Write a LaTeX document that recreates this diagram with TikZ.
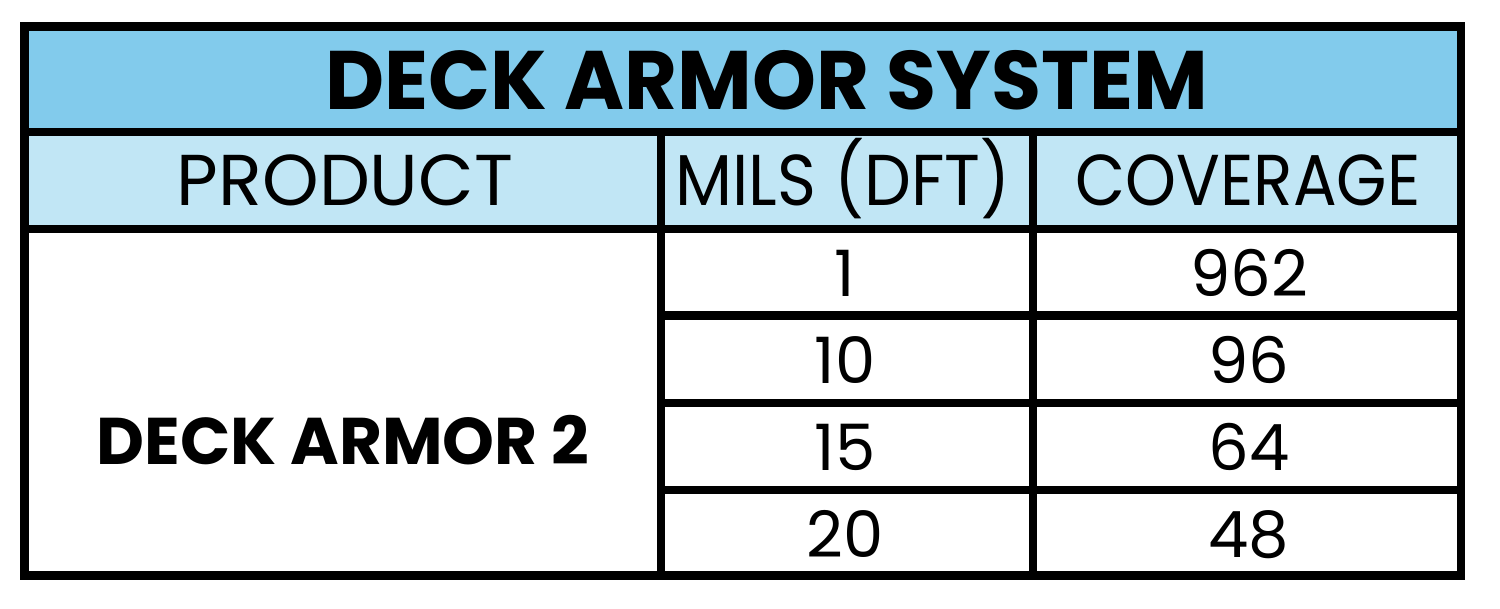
\documentclass[tikz,border=0pt]{standalone}
\usepackage{fontspec}
\setmainfont{Poppins}
\definecolor{titleblue}{RGB}{130,203,236}
\definecolor{headblue}{RGB}{193,230,245}
\begin{document}
\begin{tikzpicture}[x=1pt,y=-1pt,
  rule/.style={line width=8.5pt,black},
  titletext/.style={anchor=base,inner sep=0pt,font=\fontsize{83}{83}\selectfont\bfseries},
  headtext/.style={anchor=base,inner sep=0pt,font=\fontsize{72}{72}\selectfont},
  numtext/.style={anchor=base,inner sep=0pt,font=\fontsize{64}{64}\selectfont},
  prodtext/.style={anchor=base,inner sep=0pt,font=\fontsize{66}{66}\selectfont\bfseries}]
\useasboundingbox (0,0) rectangle (1500,609);
\fill[titleblue] (24.5,26.5) rectangle (1461,132);
\fill[headblue] (24.5,132) rectangle (1461,229);
% grid
\draw[rule] (24.5,26.5) rectangle (1461,575.5);
\draw[rule] (24.5,132) -- (1461,132);
\draw[rule] (24.5,229) -- (1461,229);
\draw[rule] (661,132) -- (661,575.5);
\draw[rule] (1033,132) -- (1033,575.5);
\draw[rule] (661,315.5) -- (1461,315.5);
\draw[rule] (661,403) -- (1461,403);
\draw[rule] (661,490) -- (1461,490);
% texts
\node[titletext] (title) at (767,110) {\scalebox{0.98}[1]{DECK ARMOR SYSTEM}};
\node[headtext] (hprod) at (345,206) {PRODUCT};
\node[headtext] (hmils) at (843,206) {\scalebox{0.92}[1]{MILS (DFT)}};
\node[headtext] (hcov) at (1248,206) {\scalebox{0.9}[1]{COVERAGE}};
\node[prodtext] (prod) at (343,465) {DECK ARMOR 2};
\node[numtext] (m1) at (845,297) {1};
\node[numtext] (m2) at (845,384) {10};
\node[numtext] (m3) at (845,471) {15};
\node[numtext] (m4) at (845,557) {20};
\node[numtext] (c1) at (1249,297) {962};
\node[numtext] (c2) at (1249,384) {96};
\node[numtext] (c3) at (1249,471) {64};
\node[numtext] (c4) at (1249,557) {48};
\end{tikzpicture}
\end{document}
